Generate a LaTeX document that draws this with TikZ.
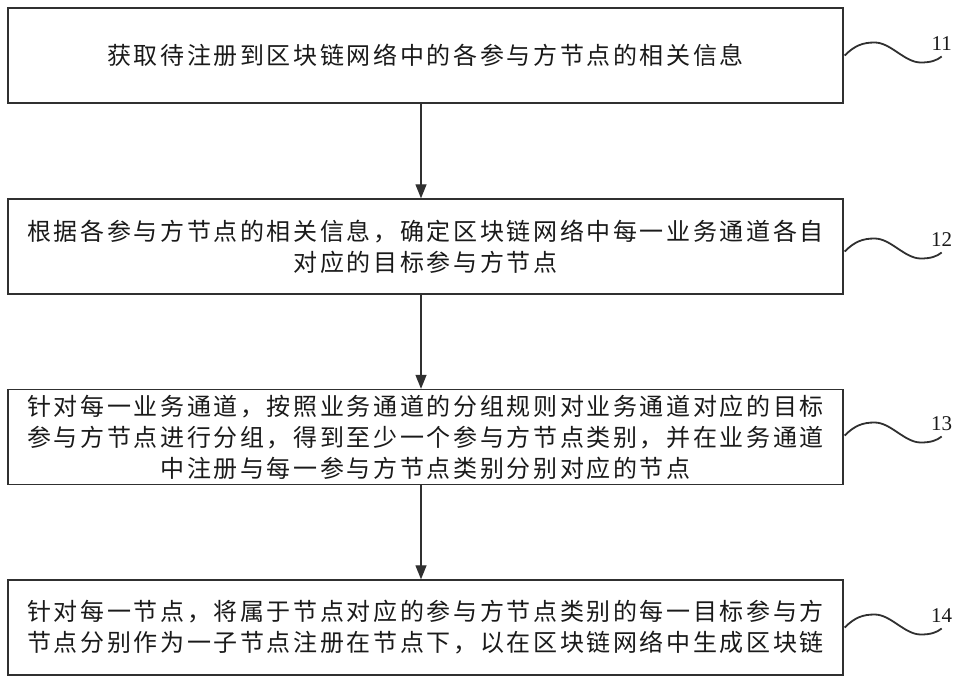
\documentclass[tikz,border=0pt]{standalone}
\usepackage{fontspec}
\setmainfont{Liberation Serif}
\newfontfamily\cjk[LetterSpace=11]{Noto Sans CJK SC}
\usetikzlibrary{arrows.meta,calc}
\definecolor{linecol}{HTML}{303030}
\definecolor{txtcol}{HTML}{1A1A1A}
\tikzset{
  stepbox/.style={draw=linecol, line width=1.4pt, minimum width=835pt, minimum height=95pt,
    inner sep=0pt, align=center, text=txtcol, font=\cjk\fontsize{24}{31}\selectfont},
  arr/.style={draw=linecol, line width=1.3pt, -{Triangle[length=14pt,width=11pt]}},
  wave/.style={draw=linecol, line width=1.8pt},
  num/.style={text=txtcol, font=\fontsize{21}{21}\selectfont, inner sep=0pt}
}
\begin{document}
\begin{tikzpicture}[x=1pt,y=-1pt]
\useasboundingbox[fill=white] (0,0) rectangle (960,682);
\node[stepbox] (b1) at (425.5,55.5) {获取待注册到区块链网络中的各参与方节点的相关信息};
\node[stepbox] (b2) at (425.5,246.5) {根据各参与方节点的相关信息，确定区块链网络中每一业务通道各自\\对应的目标参与方节点};
\node[stepbox] (b3) at (425.5,437) {针对每一业务通道，按照业务通道的分组规则对业务通道对应的目标\\参与方节点进行分组，得到至少一个参与方节点类别，并在业务通道\\中注册与每一参与方节点类别分别对应的节点};
\node[stepbox] (b4) at (425.5,627.5) {针对每一节点，将属于节点对应的参与方节点类别的每一目标参与方\\节点分别作为一子节点注册在节点下，以在区块链网络中生成区块链};
\draw[arr] ($(b1.south)+(-4.5,0)$) -- ($(b2.north)+(-4.5,0)$);
\draw[arr] ($(b2.south)+(-4.5,0)$) -- ($(b3.north)+(-4.5,0)$);
\draw[arr] ($(b3.south)+(-4.5,0)$) -- ($(b4.north)+(-4.5,0)$);
\foreach \b/\n/\dy in {b1/11/0, b2/12/5, b3/13/-1.5, b4/14/0}{
  \begin{scope}[shift={($(\b.east)+(1,\dy)$)}]
    \coordinate (w\n) at (97,1);
    \draw[wave] (0,0) .. controls (10,-10) and (18,-13) .. (30,-13)
      .. controls (46,-13) and (60,7) .. (76,7)
      .. controls (86,7) and (92,5) .. (w\n);
    \node[num] (n\n) at (97,-12) {\n};
  \end{scope}
}
\end{tikzpicture}
\end{document}
